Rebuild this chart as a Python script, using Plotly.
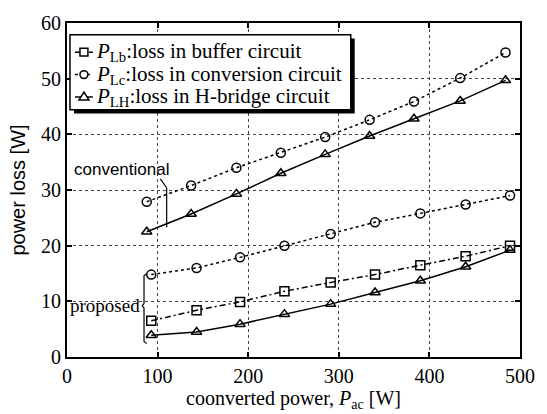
import plotly.graph_objects as go

# Converted power [W] at each measured point
conv_power = [88, 137, 187, 236, 285, 334, 383, 434, 484]
prop_power = [93, 143, 191, 240, 291, 340, 390, 440, 489]

# Conventional converter losses [W]
conv_lc = [27.9, 30.8, 34.0, 36.7, 39.5, 42.6, 45.9, 50.1, 54.7]
conv_lh = [22.5, 25.7, 29.3, 33.0, 36.4, 39.7, 42.8, 46.0, 49.7]

# Proposed converter losses [W]
prop_lb = [6.5, 8.4, 9.9, 11.8, 13.4, 14.8, 16.5, 18.1, 20.0]
prop_lc = [14.8, 16.0, 17.9, 20.0, 22.1, 24.2, 25.8, 27.4, 29.0]
prop_lh = [3.9, 4.5, 5.9, 7.7, 9.5, 11.6, 13.7, 16.2, 19.2]

x_ticks = [0, 100, 200, 300, 400, 500]
y_ticks = [0, 10, 20, 30, 40, 50, 60]

series_keys = ["lb", "lc", "lh"]
names = {
    "lb": "<i>P</i><sub>Lb</sub>:loss in buffer circuit",
    "lc": "<i>P</i><sub>Lc</sub>:loss in conversion circuit",
    "lh": "<i>P</i><sub>LH</sub>:loss in H-bridge circuit",
}
styles = {
    "lb": dict(symbol="square-open", dash="6px,3px,2px,3px"),
    "lc": dict(symbol="circle-open", dash="dot"),
    "lh": dict(symbol="triangle-up-open", dash="solid"),
}

SERIF = "Liberation Serif"
SANS = "Liberation Sans"

W, H = 547, 414
ML, MR, MT, MB = 67, 25, 14, 57
PW, PH = W - ML - MR, H - MT - MB


def px(xp):
    """Horizontal pixel position -> paper fraction."""
    return (xp - ML) / PW


def py(yp):
    """Vertical pixel position (from top) -> paper fraction."""
    return (H - MB - yp) / PH


fig = go.Figure()


def add_series(x, y, key):
    st = styles[key]
    fig.add_trace(go.Scatter(
        x=x, y=y, mode="lines+markers", name=names[key], showlegend=False,
        line=dict(color="black", width=1.5, dash=st["dash"]),
        marker=dict(symbol=st["symbol"], size=9, color="black",
                    line=dict(color="black", width=1.5)),
    ))


add_series(prop_power, prop_lb, "lb")
add_series(prop_power, prop_lc, "lc")
add_series(prop_power, prop_lh, "lh")
add_series(conv_power, conv_lc, "lc")
add_series(conv_power, conv_lh, "lh")

axis_common = dict(
    showline=True, linecolor="black", linewidth=2, mirror="allticks",
    ticks="inside", ticklen=5, tickcolor="black", tickwidth=1.5,
    showgrid=True, gridcolor="#444", gridwidth=1, griddash="dot",
    zeroline=False, tickfont=dict(family=SERIF, size=20, color="black"),
)

fig.update_xaxes(
    range=[0, 500], tickvals=x_ticks, ticktext=[str(v) for v in x_ticks],
    title=dict(text="coonverted power, <i>P</i><sub>ac</sub> [W]",
               font=dict(family=SERIF, size=20, color="black"), standoff=0),
    **axis_common,
)
fig.update_yaxes(
    range=[0, 60], tickvals=y_ticks, ticktext=[str(v) for v in y_ticks],
    title=dict(text="power loss [W]",
               font=dict(family=SANS, size=20, color="black"), standoff=10),
    **axis_common,
)

# Group labels with their brackets
fig.add_annotation(x=6, y=33.6, xref="x", yref="y", text="conventional",
                   showarrow=False, xanchor="left", yanchor="middle",
                   font=dict(family=SANS, size=17, color="black"))
fig.add_shape(type="line", xref="x", yref="y", x0=103, y0=32.0, x1=110, y1=30.4,
              line=dict(color="black", width=1.2))
fig.add_shape(type="line", xref="x", yref="y", x0=110, y0=30.4, x1=110, y1=23.3,
              line=dict(color="black", width=1.2))

fig.add_annotation(x=1, y=9.2, xref="x", yref="y", text="proposed",
                   showarrow=False, xanchor="left", yanchor="middle",
                   font=dict(family=SERIF, size=19, color="black"))
fig.add_shape(type="path", xref="x", yref="y",
              path="M 88,15 L 85,14.6 L 85,9.6 L 83,9.2 L 85,8.8 L 85,2.8 L 88,2.4",
              line=dict(color="black", width=1.2))

# Legend box with drop shadow
box_l, box_r, box_t, box_b = 70, 352, 26, 103
fig.add_shape(type="rect", xref="paper", yref="paper",
              x0=px(box_l + 4), x1=px(box_r + 4), y0=py(box_b + 4), y1=py(box_t + 4),
              fillcolor="black", line=dict(width=0), layer="above")
fig.add_shape(type="rect", xref="paper", yref="paper",
              x0=px(box_l), x1=px(box_r), y0=py(box_b), y1=py(box_t),
              fillcolor="white", line=dict(color="black", width=1.5), layer="above")

row_y = [44, 67, 90]
for key, yr in zip(series_keys, row_y):
    st = styles[key]
    fig.add_shape(type="line", xref="paper", yref="paper",
                  x0=px(75), x1=px(93), y0=py(yr), y1=py(yr),
                  line=dict(color="black", width=1.5, dash=st["dash"]), layer="above")
    cx, r = 84, 4
    if key == "lb":
        fig.add_shape(type="rect", xref="paper", yref="paper",
                      x0=px(cx - r), x1=px(cx + r), y0=py(yr + r), y1=py(yr - r),
                      fillcolor="white", line=dict(color="black", width=1.5), layer="above")
    elif key == "lc":
        fig.add_shape(type="circle", xref="paper", yref="paper",
                      x0=px(cx - r), x1=px(cx + r), y0=py(yr + r), y1=py(yr - r),
                      fillcolor="white", line=dict(color="black", width=1.5), layer="above")
    else:
        fig.add_shape(type="path", xref="paper", yref="paper",
                      path=(f"M {px(cx - r - 1)},{py(yr + r - 1)} "
                            f"L {px(cx + r + 1)},{py(yr + r - 1)} "
                            f"L {px(cx)},{py(yr - r - 1)} Z"),
                      fillcolor="white", line=dict(color="black", width=1.5), layer="above")
    fig.add_annotation(x=px(94), y=py(yr), xref="paper", yref="paper",
                       text=names[key], showarrow=False,
                       xanchor="left", yanchor="middle",
                       font=dict(family=SERIF, size=21, color="black"))

fig.update_layout(
    width=W, height=H,
    margin=dict(l=ML, r=MR, t=MT, b=MB),
    paper_bgcolor="white", plot_bgcolor="white",
    showlegend=False,
)

fig.write_html("out.html")
